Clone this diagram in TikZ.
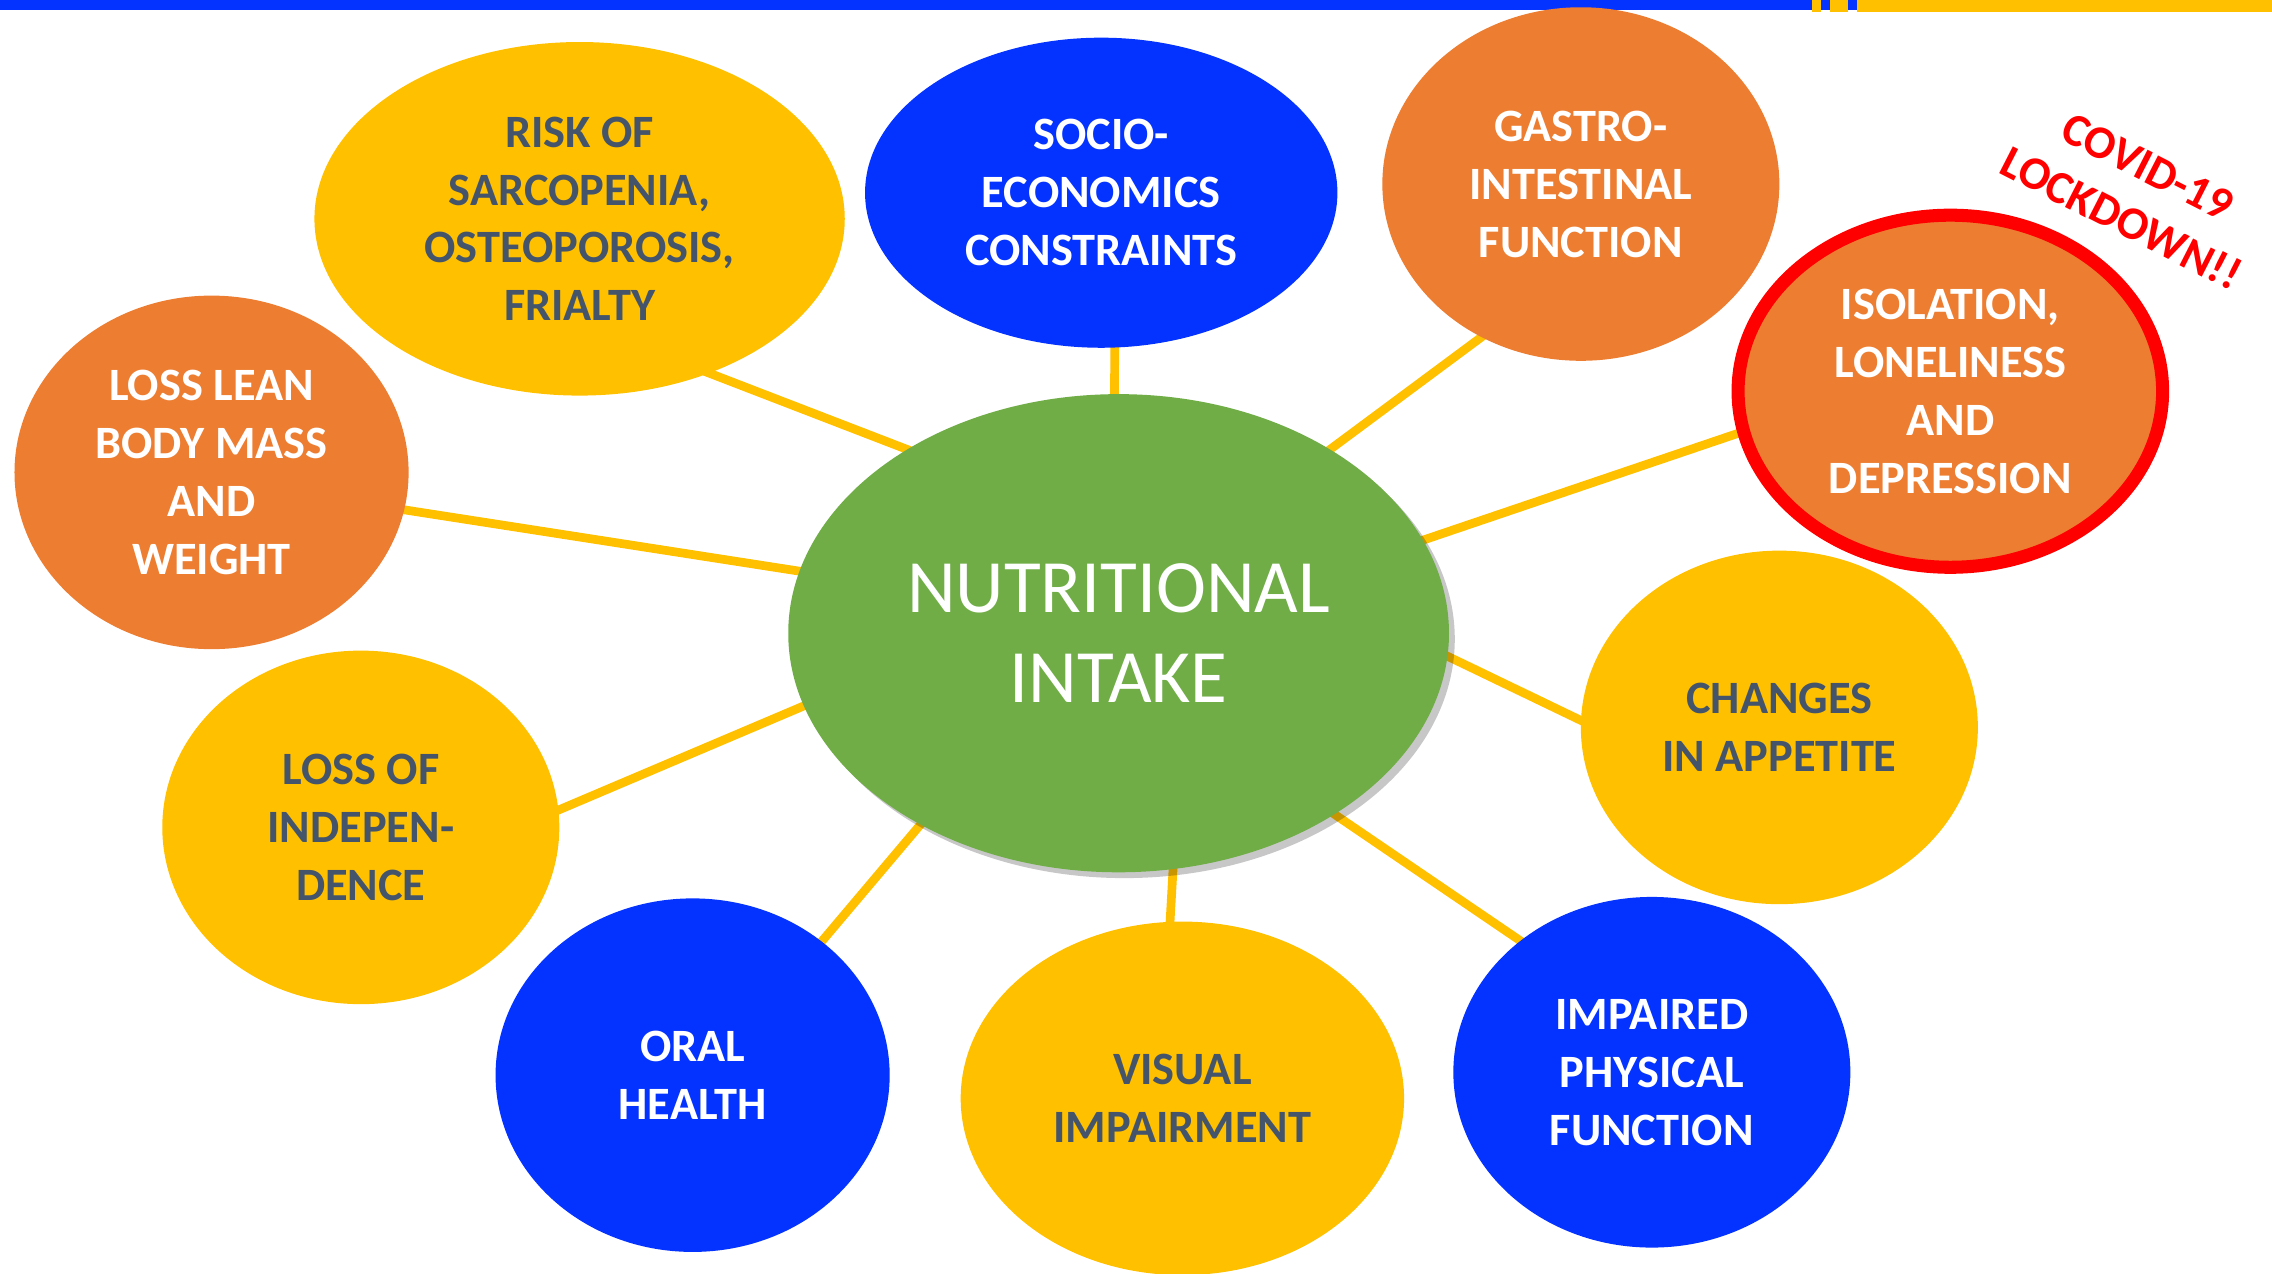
\documentclass[tikz,border=0pt]{standalone}
\usepackage{fontspec}
\setmainfont{Carlito}
\usetikzlibrary{shapes.geometric,backgrounds,shadows}
\definecolor{cyel}{HTML}{FFC000}
\definecolor{cblu}{RGB}{4,51,255}
\definecolor{corg}{HTML}{ED7D31}
\definecolor{cgrn}{HTML}{70AD47}
\definecolor{cslate}{HTML}{44546A}
\definecolor{cred}{HTML}{FF0000}
\begin{document}
\begin{tikzpicture}[x=1pt,y=-1pt,
  bub/.style={ellipse, inner sep=0pt, outer sep=0pt, align=center, font=\bfseries\fontsize{32}{40}\selectfont},
  ybub/.style={bub, fill=cyel, text=cslate},
  bbub/.style={bub, fill=cblu, text=white},
  obub/.style={bub, fill=corg, text=white},
  link/.style={draw=cyel, line width=6pt, shorten <=-6pt, shorten >=-6pt},
]
\useasboundingbox (0,0) rectangle (1568,879);
% top bar
\fill[cblu] (0,0) rectangle (1250.5,7);
\fill[cyel] (1250.5,0) rectangle (1256.7,8);
\fill[cblu] (1256.7,0) rectangle (1262.9,7);
\fill[cyel] (1262.9,0) rectangle (1275.4,8);
\fill[cblu] (1275.4,0) rectangle (1281.6,7);
\fill[cyel] (1281.6,0) rectangle (1568,8);
% bubbles
\node[ybub, minimum width=366pt, minimum height=244pt] (sarc) at (400,151) {RISK OF\\SARCOPENIA,\\OSTEOPOROSIS,\\FRIALTY};
\node[bbub, minimum width=326pt, minimum height=214pt] (socio) at (760,133) {SOCIO-\\ECONOMICS\\CONSTRAINTS};
\node[obub, minimum width=274pt, minimum height=244pt] (gastro) at (1091,127) {GASTRO-\\INTESTINAL\\FUNCTION};
\node[obub, draw=cred, line width=9pt, minimum width=293pt, minimum height=243pt] (iso) at (1346,270) {ISOLATION,\\LONELINESS\\AND\\DEPRESSION};
\node[obub, minimum width=272pt, minimum height=244pt] (lean) at (146,326) {LOSS LEAN\\BODY MASS\\AND\\WEIGHT};
\node[ellipse, fill=cgrn, inner sep=0pt, outer sep=0pt, minimum width=456pt, minimum height=330pt,
      drop shadow={shadow xshift=4pt, shadow yshift=-4pt, fill=black, opacity=0.22},
      text=white, align=center, font=\fontsize{52}{62}\selectfont] (ni) at (772,437) {NUTRITIONAL\\INTAKE};
\node[ybub, minimum width=274pt, minimum height=244pt] (app) at (1228,502) {CHANGES\\IN APPETITE};
\node[ybub, minimum width=274pt, minimum height=244pt] (indep) at (249,571) {LOSS OF\\INDEPEN-\\DENCE};
\node[bbub, minimum width=272pt, minimum height=244pt] (oral) at (478,742) {ORAL\\HEALTH};
\node[ybub, minimum width=306pt, minimum height=244pt] (vis) at (816,758) {VISUAL\\IMPAIRMENT};
\node[bbub, minimum width=274pt, minimum height=242pt] (imp) at (1140,740) {IMPAIRED\\PHYSICAL\\FUNCTION};
% covid label
\node[rotate=-27, text=cred, align=center, font=\bfseries\fontsize{32}{40}\selectfont] (covid) at (1473,133) {COVID-19\\LOCKDOWN!!};
% connectors
\begin{scope}[on background layer]
\draw[link] (sarc.-50) -- (ni.139.6);
\draw[link] (socio.-85) -- (ni.91);
\draw[link] (gastro.-123.6) -- (ni.41.2);
\draw[link] (iso.191.5) -- (ni.17.1);
\draw[link] (lean.-11.6) -- (ni.169.4);
\draw[link] (app.178.3) -- (ni.-4.6);
\draw[link] (indep.5.8) -- (ni.193);
\draw[link] (oral.46.5) -- (ni.224.8);
\draw[link] (vis.94.2) -- (ni.-77.9);
\draw[link] (imp.135.3) -- (ni.-40.2);
\end{scope}
\end{tikzpicture}
\end{document}
